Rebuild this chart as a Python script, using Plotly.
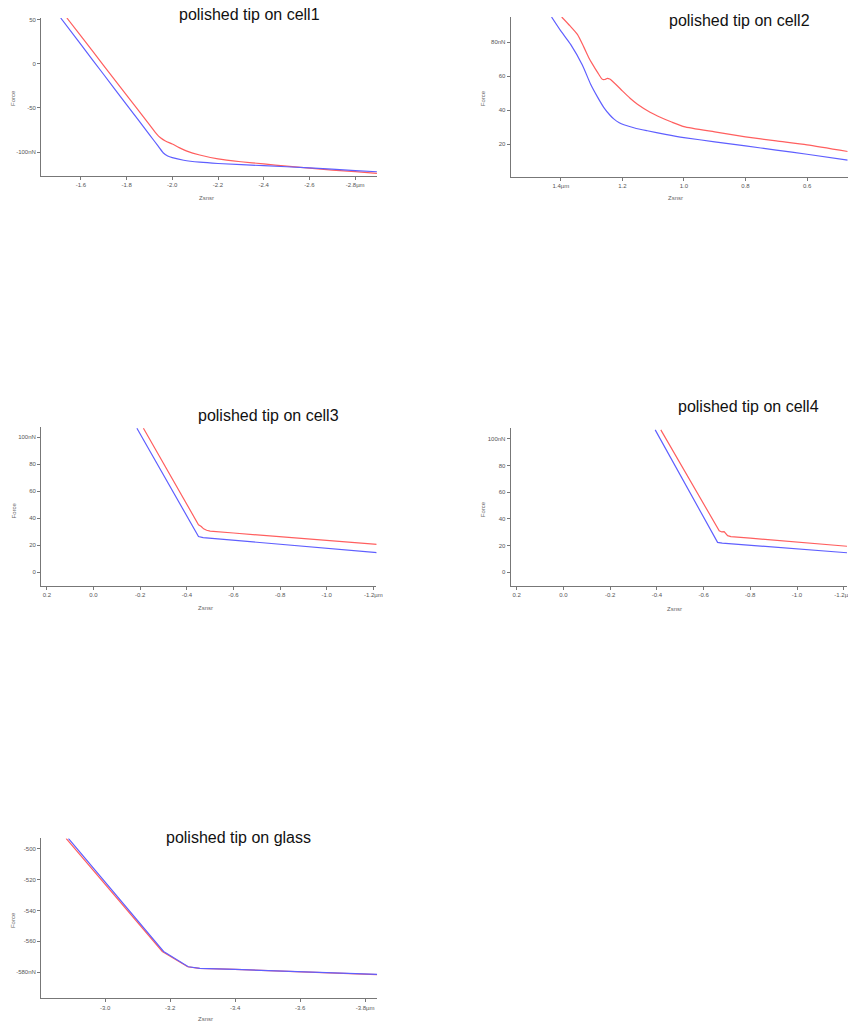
import plotly.graph_objects as go

W, H = 848, 1024          # reference pixel frame
FIG_W = 855               # figure width (compensates horizontal shrink seen in render)

# ---------------- data ----------------
# panel 1: polished tip on cell1
p1_blue_x = [-1.512, -1.60, -1.70, -1.80, -1.90, -1.94, -1.96, -1.98, -2.00, -2.05, -2.12, -2.20, -2.40, -2.60, -2.80, -2.895]
p1_blue_y = [52, 22, -12.1, -46.2, -80.3, -93.9, -100.8, -104.5, -106.4, -109.3, -111.5, -113, -115.5, -118, -121, -122.4]
p1_red_x = [-1.539, -1.60, -1.70, -1.80, -1.90, -1.933, -1.947, -1.97, -2.00, -2.03, -2.064, -2.12, -2.20, -2.30, -2.40, -2.50, -2.60, -2.70, -2.80, -2.895]
p1_red_y = [52, 31.6, -1.9, -35.4, -68.9, -80, -83.5, -87.5, -91, -95, -99, -103.4, -107.8, -111, -113.5, -116, -118.3, -120.5, -122.3, -124.2]

# panel 2: polished tip on cell2
p2_blue_x = [1.43, 1.40, 1.368, 1.33, 1.303, 1.28, 1.26, 1.24, 1.227, 1.21, 1.195, 1.16, 1.119, 1.06, 1.0, 0.9, 0.8, 0.7, 0.6, 0.468]
p2_blue_y = [94.7, 86.5, 78.6, 66.5, 55.2, 47.5, 41.5, 37.0, 34.7, 32.6, 31.4, 29.5, 27.9, 25.8, 23.9, 21.4, 19.0, 16.5, 14.1, 10.6]
p2_red_x = [1.397, 1.37, 1.346, 1.325, 1.309, 1.30, 1.28, 1.265, 1.257, 1.249, 1.241, 1.233, 1.215, 1.2, 1.175, 1.151, 1.11, 1.075, 1.04, 1.0, 0.9, 0.8, 0.7, 0.6, 0.468]
p2_red_y = [94.7, 89.5, 84.5, 77.0, 70.8, 67.9, 62.0, 58.1, 58.0, 58.7, 58.3, 57.1, 54.0, 51.3, 47.0, 43.5, 38.8, 35.7, 33.0, 30.3, 27.2, 24.3, 21.9, 19.6, 15.7]

# panel 3: polished tip on cell3
p3_blue_x = [-0.186, -0.30, -0.40, -0.45, -0.47, -0.6, -0.8, -1.0, -1.216]
p3_blue_y = [106.7, 72.0, 41.6, 26.4, 25.6, 23.6, 20.6, 17.6, 14.4]
p3_red_x = [-0.214, -0.30, -0.40, -0.45, -0.462, -0.472, -0.485, -0.5, -0.6, -0.8, -1.0, -1.216]
p3_red_y = [106.7, 80.6, 50.3, 35.1, 33.8, 32.1, 31.0, 30.4, 29.0, 26.3, 23.5, 20.5]

# panel 4: polished tip on cell4
p4_blue_x = [-0.393, -0.5, -0.6, -0.66, -0.68, -0.8, -1.0, -1.214]
p4_blue_y = [106.7, 72.9, 41.3, 22.4, 21.9, 20.3, 17.5, 14.6]
p4_red_x = [-0.417, -0.5, -0.6, -0.667, -0.678, -0.688, -0.703, -0.717, -0.8, -1.0, -1.214]
p4_red_y = [106.7, 81.6, 51.4, 31.1, 30.2, 30.4, 27.4, 26.7, 25.5, 22.6, 19.5]

# panel 5: polished tip on glass
p5_blue_x = [-2.887, -3.0, -3.08, -3.18, -3.256, -3.292, -3.4, -3.6, -3.837]
p5_blue_y = [-493.5, -521.5, -541.6, -566.5, -576.4, -577.4, -578.1, -579.6, -581.3]
p5_red_x = [-2.880, -2.994, -3.075, -3.176, -3.254, -3.29, -3.4, -3.6, -3.837]
p5_red_y = [-493.5, -521.5, -541.6, -566.5, -576.4, -577.4, -578.1, -579.6, -581.5]

titles = ["polished tip on cell1", "polished tip on cell2", "polished tip on cell3",
          "polished tip on cell4", "polished tip on glass"]

p1_xticks = [-1.6, -1.8, -2.0, -2.2, -2.4, -2.6, -2.8]
p1_xtext = ["-1.6", "-1.8", "-2.0", "-2.2", "-2.4", "-2.6", "-2.8µm"]
p1_yticks = [50, 0, -50, -100]
p1_ytext = ["50", "0", "-50", "-100nN"]
p2_xticks = [1.4, 1.2, 1.0, 0.8, 0.6]
p2_xtext = ["1.4µm", "1.2", "1.0", "0.8", "0.6"]
p2_yticks = [80, 60, 40, 20]
p2_ytext = ["80nN", "60", "40", "20"]
p34_xticks = [0.2, 0.0, -0.2, -0.4, -0.6, -0.8, -1.0, -1.2]
p34_xtext = ["0.2", "0.0", "-0.2", "-0.4", "-0.6", "-0.8", "-1.0", "-1.2µm"]
p34_yticks = [100, 80, 60, 40, 20, 0]
p34_ytext = ["100nN", "80", "60", "40", "20", "0"]
p5_xticks = [-3.0, -3.2, -3.4, -3.6, -3.8]
p5_xtext = ["-3.0", "-3.2", "-3.4", "-3.6", "-3.8µm"]
p5_yticks = [-500, -520, -540, -560, -580]
p5_ytext = ["-500", "-520", "-540", "-560", "-580nN"]

# ---------------- layout helpers ----------------
RED = "rgb(255,95,95)"
BLUE = "rgb(95,95,255)"

panels = [
    dict(data=(p1_red_x, p1_red_y, p1_blue_x, p1_blue_y), box=(41, 17, 376.7, 175),
         xr=[-1.426, -2.896], yr=[-127, 52], xt=(p1_xticks, p1_xtext), yt=(p1_yticks, p1_ytext),
         title=(249, 14), force=(13, 97), zs=(206, 197), shape="spline"),
    dict(data=(p2_red_x, p2_red_y, p2_blue_x, p2_blue_y), box=(510, 16, 846.7, 175.7),
         xr=[1.563, 0.468], yr=[1, 94.7], xt=(p2_xticks, p2_xtext), yt=(p2_yticks, p2_ytext),
         title=(739, 20), force=(482.7, 97), zs=(675, 197), shape="spline"),
    dict(data=(p3_red_x, p3_red_y, p3_blue_x, p3_blue_y), box=(41, 426, 376, 585.7),
         xr=[0.225, -1.213], yr=[-10.4, 107.9], xt=(p34_xticks, p34_xtext), yt=(p34_yticks, p34_ytext),
         title=(268, 415), force=(13, 510), zs=(205, 607.5), shape="linear"),
    dict(data=(p4_red_x, p4_red_y, p4_blue_x, p4_blue_y), box=(510, 427.7, 846, 585.7),
         xr=[0.226, -1.214], yr=[-10.4, 107.9], xt=(p34_xticks, p34_xtext), yt=(p34_yticks, p34_ytext),
         title=(748, 406), force=(482.7, 508.5), zs=(673.3, 608.5), shape="linear"),
    dict(data=(p5_red_x, p5_red_y, p5_blue_x, p5_blue_y), box=(41, 838.3, 376.7, 998.3),
         xr=[-2.803, -3.837], yr=[-596.8, -493.5], xt=(p5_xticks, p5_xtext), yt=(p5_yticks, p5_ytext),
         title=(238, 837), force=(13, 920), zs=(205, 1019), shape="linear"),
]

fig = go.Figure()
layout = dict(width=FIG_W, height=H, margin=dict(l=0, r=0, t=0, b=0),
              paper_bgcolor="white", plot_bgcolor="white", showlegend=False)
annotations = []
tickfont = dict(family="Liberation Sans, Arial", size=6, color="#555")
labfont = dict(family="Liberation Sans, Arial", size=6, color="#666")

for i, p in enumerate(panels, start=1):
    xa = "x" if i == 1 else f"x{i}"
    ya = "y" if i == 1 else f"y{i}"
    rx, ry, bx, by = p["data"]
    ls = p["shape"]
    fig.add_trace(go.Scatter(x=rx, y=ry, mode="lines",
                             line=dict(color=RED, width=1.2, shape=ls, smoothing=0.6),
                             xaxis=xa, yaxis=ya, hoverinfo="skip"))
    fig.add_trace(go.Scatter(x=bx, y=by, mode="lines",
                             line=dict(color=BLUE, width=1.2, shape=ls, smoothing=0.6),
                             xaxis=xa, yaxis=ya, hoverinfo="skip"))
    x0, y0, x1, y1 = p["box"]
    common = dict(showgrid=False, zeroline=False, showline=True, linecolor="#777", linewidth=1,
                  ticks="outside", ticklen=3, tickcolor="#777", tickwidth=1, tickfont=tickfont)
    layout[f"xaxis{'' if i == 1 else i}"] = dict(
        domain=[x0 / W, min(x1 / W, 1.0)], range=p["xr"], anchor=ya,
        tickvals=p["xt"][0], ticktext=p["xt"][1], **common)
    layout[f"yaxis{'' if i == 1 else i}"] = dict(
        domain=[1 - y1 / H, 1 - y0 / H], range=p["yr"], anchor=xa,
        tickvals=p["yt"][0], ticktext=p["yt"][1], **common)
    tx, ty = p["title"]
    annotations.append(dict(text=titles[i - 1], x=tx / W, y=1 - ty / H, xref="paper", yref="paper",
                            xanchor="center", yanchor="middle", showarrow=False,
                            font=dict(family="Liberation Sans, Arial", size=16, color="#111")))
    fx, fy = p["force"]
    annotations.append(dict(text="Force", x=fx / W, y=1 - fy / H, xref="paper", yref="paper",
                            xanchor="center", yanchor="middle", showarrow=False, textangle=-90,
                            font=labfont))
    zx, zy = p["zs"]
    annotations.append(dict(text="Zsnsr", x=zx / W, y=1 - zy / H, xref="paper", yref="paper",
                            xanchor="center", yanchor="middle", showarrow=False, font=labfont))

layout["annotations"] = annotations
fig.update_layout(**layout)
fig.write_html("out.html")
